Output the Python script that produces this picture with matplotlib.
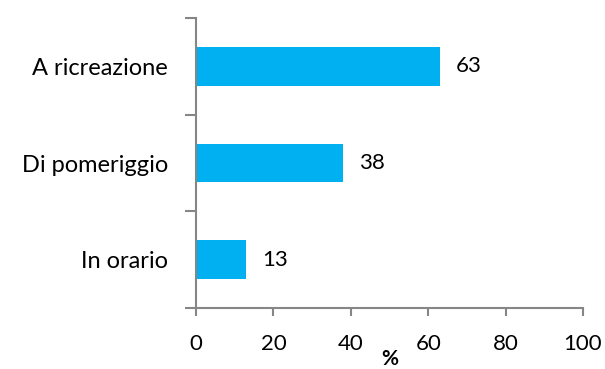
"""
Horizontal bar chart: quando (percentuali)
"""

import matplotlib
matplotlib.use('Agg')
import matplotlib.pyplot as plt
import numpy as np

categorie = ['In orario', 'Di pomeriggio', 'A ricreazione']
valori = [13, 38, 63]
xticks = [0, 20, 40, 60, 80, 100]

plt.rcParams['font.family'] = ['Lato', 'DejaVu Sans']

fig = plt.figure(figsize=(6.05, 3.69), dpi=100)
ax = fig.add_axes([196/605, 1-308/369, (583-196)/605, (308-18)/369])

y = np.arange(len(categorie))
ax.barh(y, valori, height=0.4, color='#00B0F0')
for yi, v in zip(y, valori):
    ax.text(v + 4, yi, str(v), va='center', ha='left', fontsize=16)

ax.set_xlim(0, 100)
ax.set_ylim(-0.5, len(categorie) - 0.5)
ax.set_xticks(xticks)
ax.set_yticks(y)
ax.set_yticklabels(categorie)
ax.set_yticks(np.arange(-0.5, len(categorie)), minor=True)

grey = '#868686'
for s in ['top', 'right']:
    ax.spines[s].set_visible(False)
for s in ['left', 'bottom']:
    ax.spines[s].set_color(grey)
    ax.spines[s].set_linewidth(1.5)

ax.tick_params(axis='y', which='major', length=0, pad=20, labelsize=17)
ax.tick_params(axis='y', which='minor', length=8, width=1.5, color=grey, direction='out')
ax.tick_params(axis='x', length=6, width=1.5, color=grey, direction='out', pad=13, labelsize=16)

ax.set_xlabel('%', fontsize=15, fontweight='bold', labelpad=-4)

fig.savefig('out.png', dpi=100)
